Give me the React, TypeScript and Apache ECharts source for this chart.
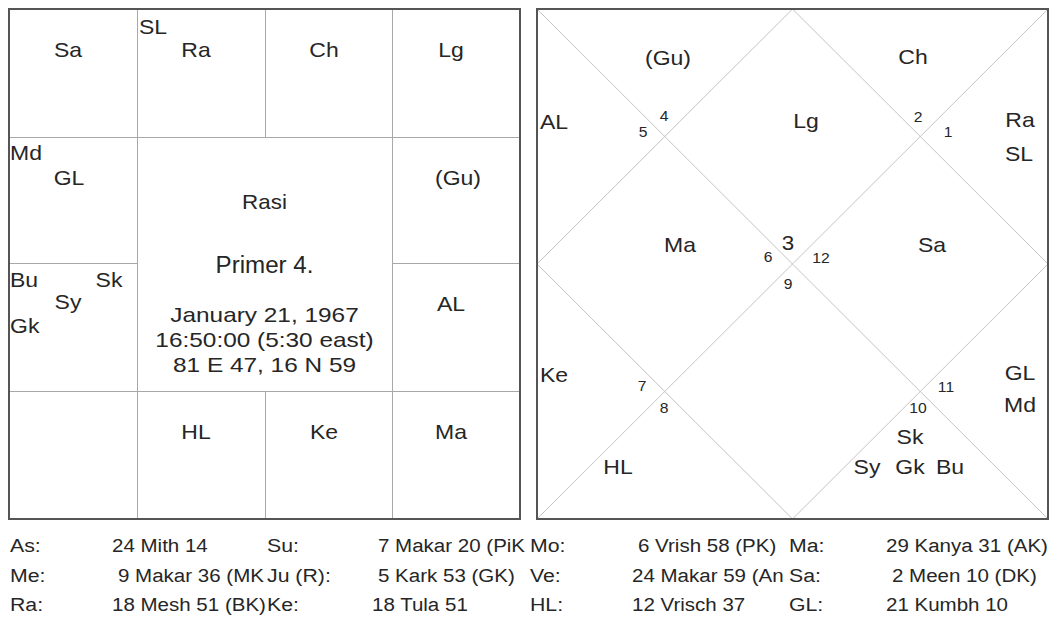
import React, { useEffect, useRef } from "react";
import * as echarts from "echarts";

// ---------- DATA ----------
const chartTitle = "Rasi";
const chartName = "Primer 4.";
const birthDetails = ["January 21, 1967", "16:50:00 (5:30 east)", "81 E 47, 16 N 59"];

// South-Indian chart: labels per sign, Aries .. Pisces
const signLabels: string[][] = [
  ["SL", "Ra"], // Aries
  ["Ch"], // Taurus
  ["Lg"], // Gemini
  ["(Gu)"], // Cancer
  ["AL"], // Leo
  ["Ma"], // Virgo
  ["Ke"], // Libra
  ["HL"], // Scorpio
  [], // Sagittarius
  ["Bu", "Sk", "Sy", "Gk"], // Capricorn
  ["Md", "GL"], // Aquarius
  ["Sa"], // Pisces
];

// North-Indian chart: labels per house 1..12, and the sign number of each house
const houseLabels: string[][] = [
  ["Lg"],
  ["(Gu)"],
  ["AL"],
  ["Ma"],
  ["Ke"],
  ["HL"],
  [],
  ["Sk", "Sy", "Gk", "Bu"],
  ["GL", "Md"],
  ["Sa"],
  ["Ra", "SL"],
  ["Ch"],
];
const houseSigns = ["3", "4", "5", "6", "7", "8", "9", "10", "11", "12", "1", "2"];

// Table
const tableKeys: string[][] = [
  ["As:", "Su:", "Mo:", "Ma:"],
  ["Me:", "Ju (R):", "Ve:", "Sa:"],
  ["Ra:", "Ke:", "HL:", "GL:"],
];
const tableValues: string[][] = [
  ["24 Mith 14", "7 Makar 20 (PiK", "6 Vrish 58 (PK)", "29 Kanya 31 (AK)"],
  ["9 Makar 36 (MK", "5 Kark 53 (GK)", "24 Makar 59 (An", "2 Meen 10 (DK)"],
  ["18 Mesh 51 (BK)", "18 Tula 51", "12 Vrisch 37", "21 Kumbh 10"],
];

// ---------- LAYOUT ----------
const FONT = '"Liberation Sans", Arial, Helvetica, sans-serif';
const INK = "#262626";
const FRAME = "#555555";
const GRID = "#a8a8a8";
const DIAG = "#c4c4c4";

const SX = [9, 137, 265, 392, 520];
const SY = [9, 137, 263, 391, 519];
// cell (col,row) of each sign Aries..Pisces
const signCell: [number, number][] = [
  [1, 0], [2, 0], [3, 0], [3, 1], [3, 2], [3, 3],
  [2, 3], [1, 3], [0, 3], [0, 2], [0, 1], [0, 0],
];
type Slot = [number, number, string]; // dx, dy, align
const defaultSlots: Slot[] = [[59, 41, "center"]];
const signSlots: Record<number, Slot[]> = {
  0: [[2, 18, "left"], [59, 41, "center"]],
  3: [[66, 41, "center"]],
  9: [[1, 17, "left"], [100, 17, "center"], [59, 39, "center"], [1, 63, "left"]],
  10: [[1, 16, "left"], [60, 41, "center"]],
};

const NL = 537, NR = 1048, NT = 9, NB = 519;
const NCX = (NL + NR) / 2, NCY = (NT + NB) / 2;
const houseSlots: Slot[][] = [
  [[806, 121, "center"]],
  [[668, 58, "center"]],
  [[540, 122, "left"]],
  [[680, 245, "center"]],
  [[540, 375, "left"]],
  [[618, 467, "center"]],
  [],
  [[910, 437, "center"], [867, 467, "center"], [910, 467, "center"], [950, 467, "center"]],
  [[1020, 373, "center"], [1020, 405, "center"]],
  [[932, 245, "center"]],
  [[1020, 120, "center"], [1019, 154, "center"]],
  [[913, 57, "center"]],
];
const numberPos: [number, number][] = [
  [788, 243], [664, 116], [643, 132], [768, 257], [642, 386], [664, 408],
  [788, 284], [918, 408], [946, 387], [821, 258], [948, 132], [918, 117],
];

const keyX = [10, 267, 530, 789];
const valueX = [112, 372, 632, 886];
const rowY = [545, 575, 604];

function txt(text: string, x: number, y: number, size: number, sx: number, align = "center") {
  return {
    type: "text",
    x,
    y,
    scaleX: sx,
    silent: true,
    style: {
      text,
      fontSize: size,
      fontFamily: FONT,
      fill: INK,
      align,
      verticalAlign: "middle",
      textAlign: align,
      textVerticalAlign: "middle",
    },
  };
}
function ln(x1: number, y1: number, x2: number, y2: number, stroke: string, w = 1) {
  return { type: "line", silent: true, shape: { x1, y1, x2, y2 }, style: { stroke, lineWidth: w } };
}

function buildGraphic() {
  const els: any[] = [];
  // South chart grid
  const h = 0.5;
  els.push(ln(SX[1] + h, SY[0], SX[1] + h, SY[4], GRID));
  els.push(ln(SX[3] + h, SY[0], SX[3] + h, SY[4], GRID));
  els.push(ln(SX[2] + h, SY[0], SX[2] + h, SY[1], GRID));
  els.push(ln(SX[2] + h, SY[3], SX[2] + h, SY[4], GRID));
  els.push(ln(SX[0], SY[1] + h, SX[4], SY[1] + h, GRID));
  els.push(ln(SX[0], SY[3] + h, SX[4], SY[3] + h, GRID));
  els.push(ln(SX[0], SY[2] + h, SX[1], SY[2] + h, GRID));
  els.push(ln(SX[3], SY[2] + h, SX[4], SY[2] + h, GRID));
  els.push({
    type: "rect",
    silent: true,
    shape: { x: SX[0], y: SY[0], width: SX[4] - SX[0], height: SY[4] - SY[0] },
    style: { fill: "none", stroke: FRAME, lineWidth: 2 },
  });
  signLabels.forEach((labels, i) => {
    const [c, r] = signCell[i];
    const slots = signSlots[i] || defaultSlots;
    labels.forEach((lab, k) => {
      const s = slots[k] || slots[0];
      els.push(txt(lab, SX[c] + s[0], SY[r] + s[1], 20, 1.15, s[2]));
    });
  });
  const cx = (SX[1] + SX[3]) / 2;
  els.push(txt(chartTitle, cx, 202, 20, 1.12));
  els.push(txt(chartName, cx, 265, 23, 1.05));
  birthDetails.forEach((d, i) => els.push(txt(d, cx, 315 + i * 25, 20, 1.22)));

  // North chart
  els.push(ln(NL, NT, NR, NB, DIAG));
  els.push(ln(NR, NT, NL, NB, DIAG));
  els.push({
    type: "polygon",
    silent: true,
    shape: { points: [[NCX, NT], [NR, NCY], [NCX, NB], [NL, NCY]] },
    style: { fill: "none", stroke: DIAG, lineWidth: 1 },
  });
  els.push({
    type: "rect",
    silent: true,
    shape: { x: NL, y: NT, width: NR - NL, height: NB - NT },
    style: { fill: "none", stroke: FRAME, lineWidth: 2 },
  });
  houseLabels.forEach((labels, i) => {
    labels.forEach((lab, k) => {
      const s = houseSlots[i][k];
      els.push(txt(lab, s[0], s[1], 20, 1.15, s[2]));
    });
  });
  houseSigns.forEach((n, i) => {
    const [x, y] = numberPos[i];
    els.push(txt(n, x, y, i === 0 ? 20 : 14, 1.12));
  });

  // Table
  tableKeys.forEach((row, r) => {
    row.forEach((k, c) => {
      els.push(txt(k, keyX[c], rowY[r], 19, 1.12, "left"));
      const v = tableValues[r][c];
      const pad = /^\d\s/.test(v) ? 6 : 0;
      els.push(txt(v, valueX[c] + pad, rowY[r], 19, 1.08, "left"));
    });
  });
  return els;
}

export default function App() {
  const ref = useRef<HTMLDivElement>(null);
  useEffect(() => {
    document.body.style.margin = "0";
    if (!ref.current) return;
    const chart = echarts.init(ref.current, undefined, { renderer: "svg" });
    chart.setOption({
      animation: false,
      backgroundColor: "#ffffff",
      graphic: { elements: buildGraphic() },
    });
    return () => chart.dispose();
  }, []);
  return (
    <div
      ref={ref}
      style={{ position: "fixed", left: 0, top: 0, width: 1058, height: 623, background: "#fff" }}
    />
  );
}
